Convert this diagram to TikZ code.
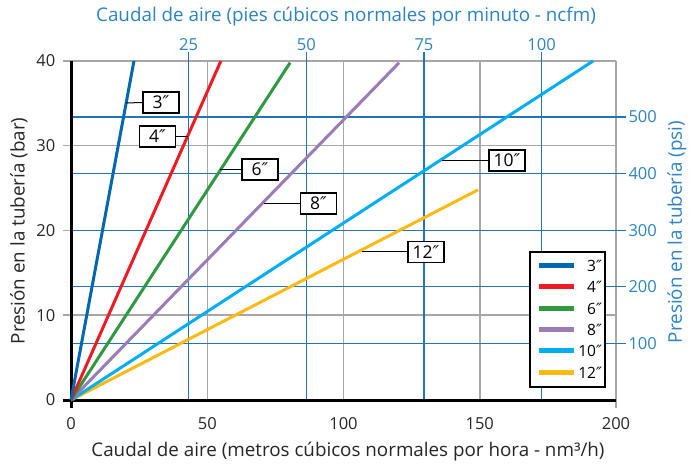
\documentclass[tikz,border=0pt]{standalone}
\usepackage{fontspec}
\setmainfont{Open Sans}
\newfontfamily\dvfont{DejaVu Sans}
\newcommand{\dprime}{{\dvfont\itshape ″}}
\definecolor{gridgray}{HTML}{A6A6A6}
\definecolor{gridblue}{HTML}{1F74BC}
\definecolor{txtblue}{HTML}{2D82C4}
\definecolor{cthree}{HTML}{0067B1}
\definecolor{cfour}{HTML}{ED1C24}
\definecolor{csix}{HTML}{2E9940}
\definecolor{ceight}{HTML}{9B7DB5}
\definecolor{cten}{HTML}{00AEEF}
\definecolor{ctwelve}{HTML}{FDBA12}
\tikzset{
  ggrid/.style={gridgray, line width=1.5pt},
  bgrid/.style={gridblue, line width=1.25pt},
  curve/.style={line width=3pt},
  lbox/.style={draw=black, fill=white, line width=1.1pt, minimum width=36pt, minimum height=21pt, inner sep=0pt, font=\fontsize{17.5}{17}\selectfont},
  leader/.style={line width=1pt},
  ticklab/.style={font=\fontsize{16.5}{16}\selectfont, text=black!85},
  bticklab/.style={font=\fontsize{16.5}{16}\selectfont, text=txtblue},
  ttl/.style={font=\fontsize{18.8}{18}\selectfont},
  legtxt/.style={font=\fontsize{15.5}{16}\selectfont, anchor=east, inner xsep=0pt}
}
\begin{document}
\begin{tikzpicture}[x=1pt,y=1pt]
\useasboundingbox[fill=white] (0,0) rectangle (694,464);
\begin{scope}[shift={(71,64)}, x=2.725pt, y=8.475pt]
  % gray grid
  \foreach \q in {50,100,150} \draw[ggrid] (\q,0) -- (\q,40);
  \draw[ggrid] (200,-1) -- (200,40);
  \foreach \p in {10,20,30,40} \draw[ggrid] (-3,\p) -- (200,\p);
  % blue grid (ncfm / psi)
  \foreach \n in {25,50,75,100} \draw[bgrid] ({\n*1.727},0) -- ({\n*1.727},41.1);
  \foreach \s in {100,200,300,400,500} \draw[bgrid] (0,{\s*0.0668}) -- (203.8,{\s*0.0668});
  % axes
  \draw[black, line width=3pt] (0,-0.9) -- (0,40);
  \draw[black, line width=3pt] (-3,0) -- (200,0);
  % curves
  \coordinate (o) at (0,0);
  \coordinate (e3) at (23.1,40);
  \coordinate (e4) at (55,40);
  \coordinate (e6) at (80.4,39.8);
  \coordinate (e8) at (120.4,39.8);
  \coordinate (e10) at (191.6,40);
  \coordinate (e12) at (149.4,24.8);
  \draw[curve, ctwelve] (o) -- (e12);
  \draw[curve, cten] (o) -- (e10);
  \draw[curve, ceight] (o) -- (e8);
  \draw[curve, csix] (o) -- (e6);
  \draw[curve, cfour] (o) -- (e4);
  \draw[curve, cthree] (o) -- (e3);
  % tick labels
  \foreach \p in {0,10,20,30,40} \node[ticklab, anchor=east] (yl\p) at (-4.5,\p) {\p};
  \foreach \q in {0,50,100,150,200} \node[ticklab] (xl\q) at (\q,-2.75) {\q};
  \foreach \n in {25,50,75,100} \node[bticklab] (tl\n) at ({\n*1.727},41.95) {\n};
  \foreach \s in {100,200,300,400,500} \node[bticklab, anchor=west] (rl\s) at (203.3,{\s*0.0668}) {\s};
\end{scope}
% titles
\node[ttl, text=txtblue] (ttop) at (346,447) {Caudal de aire (pies cúbicos normales por minuto - ncfm)};
\node[ttl, text=black!85] (tbot) at (348,12) {Caudal de aire (metros cúbicos normales por hora - nm³/h)};
\node[ttl, text=black!85, rotate=90] (tleft) at (19,233) {Presión en la tubería (bar)};
\node[ttl, text=txtblue, rotate=90] (tright) at (677,232) {Presión en la tubería (psi)};
% curve labels
\coordinate (a3) at (126,361);
\coordinate (a4) at (188,327.5);
\coordinate (a6) at (220,294.5);
\coordinate (a8) at (264,260.5);
\coordinate (a10) at (442,303.5);
\coordinate (a12) at (362,212);
\node[lbox] (b3) at (161,361.5) {3\dprime};
\node[lbox] (b4) at (157.5,327.5) {4\dprime};
\node[lbox] (b6) at (260,294.5) {6\dprime};
\node[lbox] (b8) at (318.5,260.5) {8\dprime};
\node[lbox] (b10) at (507,303.5) {10\dprime};
\node[lbox] (b12) at (426,212) {12\dprime};
\draw[leader] (a3) -- (b3.west);
\draw[leader] (a4) -- (b4.east);
\draw[leader] (a6) -- (b6.west);
\draw[leader] (a8) -- (b8.west);
\draw[leader] (a10) -- (b10.west);
\draw[leader] (a12) -- (b12.west);
% legend
\node[draw=black, fill=white, line width=1.3pt, minimum width=75pt, minimum height=135pt, inner sep=0pt] (leg) at (567.5,144.5) {};
\foreach \c/\t/\yy in {cthree/3/198, cfour/4/177, csix/6/155, ceight/8/134, cten/10/113, ctwelve/12/91}{
  \draw[\c, line width=5pt] (539,\yy) -- (574,\yy);
  \node[legtxt] (lg\t) at (602,\yy) {\t\dprime};
}
\end{tikzpicture}
\end{document}
